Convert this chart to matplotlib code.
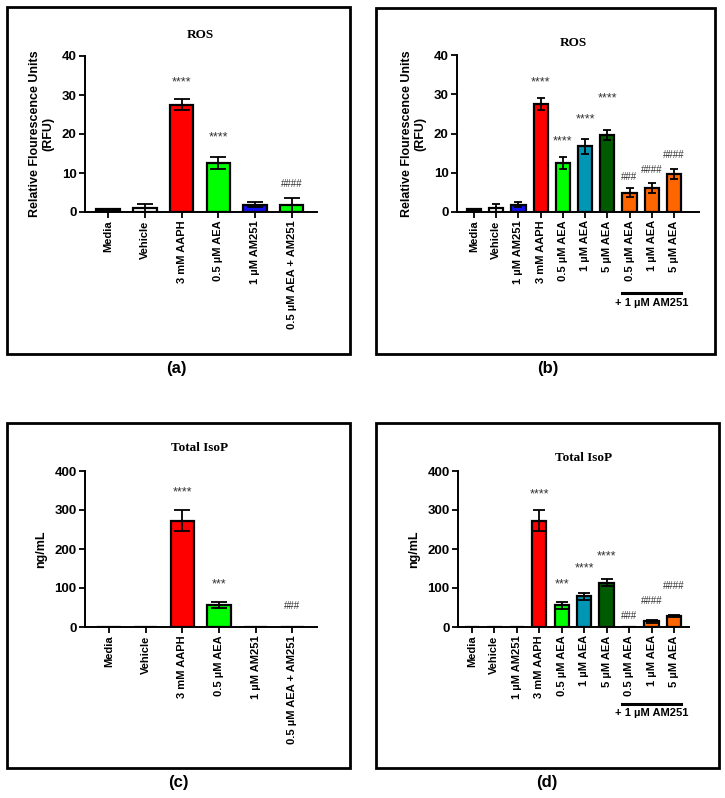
import matplotlib
matplotlib.use("Agg")
import matplotlib.pyplot as plt
import matplotlib.transforms as mtransforms
from matplotlib.patches import Rectangle

W, H = 725, 798

# ROS, short design (a)
labels_short = ["Media", "Vehicle", "3 mM AAPH", "0.5 µM AEA", "1 µM AM251",
                "0.5 µM AEA + AM251"]
ros_a = [0.8, 1.0, 27.5, 12.5, 1.9, 1.8]
ros_a_err = [0.0, 1.1, 1.4, 1.5, 0.6, 1.9]
ros_a_marks = ["", "", "****", "****", "", "####"]
ros_a_mark_y = [0, 0, 33.3, 19.0, 0, 7.2]

# ROS, dose design (b)
labels_long = ["Media", "Vehicle", "1 µM AM251", "3 mM AAPH", "0.5 µM AEA",
               "1 µM AEA", "5 µM AEA", "0.5 µM AEA", "1 µM AEA", "5 µM AEA"]
ros_b = [0.8, 1.0, 1.9, 27.5, 12.5, 16.8, 19.6, 4.9, 6.1, 9.6]
ros_b_err = [0.0, 1.0, 0.6, 1.5, 1.5, 1.9, 1.3, 1.1, 1.3, 1.3]
ros_b_marks = ["", "", "", "****", "****", "****", "****", "###", "####", "####"]
ros_b_mark_y = [0, 0, 0, 32.9, 18.0, 23.6, 28.9, 8.9, 10.8, 14.5]

# Total IsoP (c)
isop_c = [0, 0, 273, 56, 0, 0]
isop_c_err = [0, 0, 27, 8, 0, 0]
isop_c_marks = ["", "", "****", "***", "", "###"]
isop_c_mark_y = [0, 0, 346, 109, 0, 53]

# Total IsoP (d)
isop_d = [0, 0, 0, 273, 56, 79, 114, 0, 15, 28]
isop_d_err = [0, 0, 0, 27, 9, 9, 8, 0, 3.5, 3.5]
isop_d_marks = ["", "", "", "****", "***", "****", "****", "###", "####", "####"]
isop_d_mark_y = [0, 0, 0, 340, 109, 150, 181, 27, 66, 104]

colors_short = ["black", "white", "#ff0000", "#00ff00", "#1010f0", "#00ff00"]
colors_long = ["black", "white", "#1010f0", "#ff0000", "#00ff00", "#0096b4",
               "#005a00", "#ff6600", "#ff6600", "#ff6600"]

SANS = ["Liberation Sans", "DejaVu Sans"]
SERIF = ["Liberation Serif", "DejaVu Serif"]

fig = plt.figure(figsize=(W / 100, H / 100), dpi=100)


def fx(px):
    return px / W


def fy(py):
    return 1 - py / H


def panel(rect_px, values, errs, colors, labels, marks, mark_y, ymax, yticks,
          ylabel, xlim, capsize):
    left, right, y0, ytop = rect_px
    ax = fig.add_axes([fx(left), fy(y0), (right - left) / W, (y0 - ytop) / H])
    x = list(range(len(values)))
    ax.bar(x, values, width=0.64, color=colors, edgecolor="black", linewidth=1.6,
           zorder=2)
    for i, (v, e) in enumerate(zip(values, errs)):
        if e > 0:
            ax.errorbar(i, v, yerr=e, fmt="none", ecolor="black", elinewidth=1.3,
                        capsize=capsize, capthick=1.3, zorder=3)
    for i, (m, y) in enumerate(zip(marks, mark_y)):
        if m:
            size = 9 if m.startswith("*") else 7
            ax.text(i, y, m, ha="center", va="center", fontsize=size,
                    color="#333333", family=SANS)
    ax.set_xlim(*xlim)
    ax.set_ylim(0, ymax)
    ax.set_yticks(yticks)
    ax.set_xticks(x)
    ax.set_xticklabels(labels, rotation=90, fontsize=8, fontweight="bold",
                       family=SANS)
    for t in ax.get_yticklabels():
        t.set_fontsize(9.5)
        t.set_fontweight("bold")
        t.set_family(SANS)
    ax.set_ylabel(ylabel, fontsize=9, fontweight="bold", family=SANS, labelpad=5)
    ax.spines["top"].set_visible(False)
    ax.spines["right"].set_visible(False)
    for s in ("left", "bottom"):
        ax.spines[s].set_linewidth(1.4)
    ax.tick_params(direction="out", length=4, width=1.3, pad=2)
    return ax


def frame(x0, y0, x1, y1):
    fig.add_artist(Rectangle((fx(x0), fy(y1)), (x1 - x0) / W, (y1 - y0) / H,
                             transform=fig.transFigure, fill=False,
                             edgecolor="black", linewidth=2))


def bracket(ax, xa, xb, line_py, text_py):
    trans = mtransforms.blended_transform_factory(ax.transData, fig.transFigure)
    ax.plot([xa, xb], [fy(line_py), fy(line_py)], color="black", linewidth=2.2,
            transform=trans, clip_on=False)
    ax.text((xa + xb) / 2, fy(text_py), "+ 1 µM AM251", transform=trans,
            ha="center", va="center", fontsize=8, fontweight="bold", family=SANS)


ros_label = "Relative Flourescence Units\n(RFU)"

ax_a = panel((85, 317, 212, 56), ros_a, ros_a_err, colors_short, labels_short,
             ros_a_marks, ros_a_mark_y, 40, [0, 10, 20, 30, 40], ros_label,
             (-0.63, 5.69), 6)
ax_b = panel((457, 699, 212, 55), ros_b, ros_b_err, colors_long, labels_long,
             ros_b_marks, ros_b_mark_y, 40, [0, 10, 20, 30, 40], ros_label,
             (-0.77, 10.13), 3)
ax_c = panel((85, 317, 627, 471), isop_c, isop_c_err, colors_short, labels_short,
             isop_c_marks, isop_c_mark_y, 400, [0, 100, 200, 300, 400], "ng/mL",
             (-0.65, 5.67), 6)
ax_d = panel((458, 689, 627, 471), isop_d, isop_d_err, colors_long, labels_long,
             isop_d_marks, isop_d_mark_y, 400, [0, 100, 200, 300, 400], "ng/mL",
             (-0.62, 9.67), 4)

bracket(ax_b, 6.68, 9.32, 293, 303)
bracket(ax_d, 6.7, 9.3, 704, 713)

for (tx, ty, s) in ((200, 35, "ROS"), (573, 43, "ROS"),
                    (200, 448, "Total IsoP"), (584, 458, "Total IsoP")):
    fig.text(fx(tx), fy(ty), s, ha="center", va="center", fontsize=9.5,
             fontweight="bold", family=SERIF)

frame(7, 7, 350, 354)
frame(376, 8, 715, 354)
frame(7, 423, 350, 768)
frame(376, 423, 719, 768)

for (tx, ty, s) in ((176, 368, "(a)"), (548, 368, "(b)"),
                    (178, 783, "(c)"), (547, 783, "(d)")):
    fig.text(fx(tx), fy(ty), s, ha="center", va="center", fontsize=12,
             fontweight="bold", family=SANS)

fig.savefig("out.png", dpi=100)
